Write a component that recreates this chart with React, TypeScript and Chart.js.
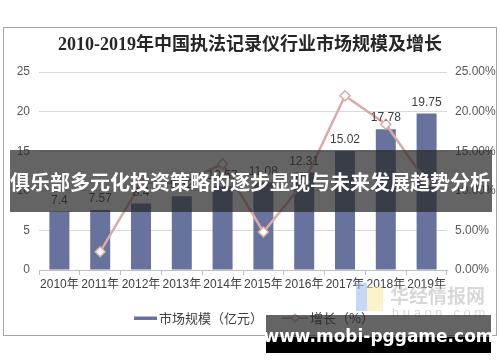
import React, { useEffect, useRef } from "react";
import { Chart, registerables } from "chart.js";
Chart.register(...registerables);

const titleText = "2010-2019年中国执法记录仪行业市场规模及增长";
const categories = ["2010年", "2011年", "2012年", "2013年", "2014年", "2015年", "2016年", "2017年", "2018年", "2019年"];
const marketSize = [7.4, 7.57, 8.4, 9.32, 10.57, 11.08, 12.31, 15.02, 17.78, 19.75];
const growthPct = [null, 2.3, 11.0, 11.0, 13.4, 4.8, 11.1, 22.0, 18.4, 11.1];
const leftTicks = [0, 5, 10, 15, 20, 25];
const rightTicks = [0, 5, 10, 15, 20, 25];
const seriesNames = ["市场规模（亿元）", "增长（%）"];
const bannerText = "俱乐部多元化投资策略的逐步显现与未来发展趋势分析";
const footerText = "www.mobi-pggame.com";
const watermarkText = "华经情报网";
const watermarkSub = "huaon.com";

const BAR = "#67739C";
const LINE = "#DDA9A5";
const SANS = "'Liberation Sans', 'Noto Sans CJK SC', sans-serif";
const CJK = "'Noto Sans CJK SC', sans-serif";

const overlayPlugin = {
  id: "overlay",
  beforeDraw(chart: any) {
    const { ctx, width, height } = chart;
    ctx.save();
    ctx.fillStyle = "#ffffff";
    ctx.fillRect(0, 0, width, height);
    ctx.strokeStyle = "#a6a6a6";
    ctx.lineWidth = 1;
    ctx.strokeRect(3.5, 27.5, 493, 308);
    ctx.fillStyle = "#262626";
    ctx.font = "bold 18px 'Liberation Serif', 'Noto Sans CJK SC', serif";
    ctx.textAlign = "center";
    ctx.textBaseline = "middle";
    ctx.fillText(titleText, 250, 45);
    ctx.restore();
  },
  afterDatasetsDraw(chart: any) {
    const { ctx } = chart;
    const meta = chart.getDatasetMeta(0);
    ctx.save();
    ctx.fillStyle = "#404040";
    ctx.font = "12px " + SANS;
    ctx.textAlign = "center";
    ctx.textBaseline = "middle";
    meta.data.forEach((el: any, i: number) => {
      ctx.fillText(String(marketSize[i]), el.x, el.y - 11);
    });
    ctx.restore();
  },
  afterDraw(chart: any) {
    const { ctx } = chart;
    ctx.save();
    // legend
    ctx.fillStyle = BAR;
    ctx.fillRect(134, 316.5, 23, 3.5);
    ctx.fillStyle = "#404040";
    ctx.font = "13px " + CJK;
    ctx.textAlign = "left";
    ctx.textBaseline = "middle";
    ctx.fillText(seriesNames[0], 159, 318);
    ctx.strokeStyle = LINE;
    ctx.lineWidth = 2;
    ctx.beginPath();
    ctx.moveTo(282, 318);
    ctx.lineTo(308, 318);
    ctx.stroke();
    ctx.fillStyle = "#fff";
    ctx.lineWidth = 1.2;
    ctx.beginPath();
    ctx.moveTo(295, 314);
    ctx.lineTo(299, 318);
    ctx.lineTo(295, 322);
    ctx.lineTo(291, 318);
    ctx.closePath();
    ctx.fill();
    ctx.stroke();
    ctx.fillStyle = "#404040";
    ctx.fillText(seriesNames[1], 310, 318);
    // watermark
    ctx.globalAlpha = 0.55;
    ctx.fillStyle = "#8fbaf0";
    ctx.fillRect(356, 283, 11, 28);
    ctx.fillStyle = "#fbe59a";
    ctx.fillRect(367, 287, 16, 24);
    ctx.fillStyle = "#b8b8b8";
    ctx.font = "bold 19px " + CJK;
    ctx.fillText(watermarkText, 390, 296);
    ctx.font = "13px " + SANS;
    ctx.fillText(watermarkSub.split("").join(" "), 392, 313);
    ctx.globalAlpha = 1;
    // center banner
    ctx.fillStyle = "rgba(40,40,40,0.72)";
    ctx.fillRect(10, 150, 482, 62);
    ctx.fillStyle = "#ffffff";
    ctx.font = "bold 20px " + CJK;
    ctx.textAlign = "center";
    ctx.fillText(bannerText, 250, 182);
    // footer banner
    ctx.fillStyle = "rgba(40,40,40,0.72)";
    ctx.fillRect(266, 315, 225, 22);
    ctx.fillStyle = "#000000";
    ctx.fillRect(266, 337, 225, 16);
    ctx.fillStyle = "#ffffff";
    ctx.font = "bold 17px 'DejaVu Sans', " + SANS;
    ctx.fillText(footerText, 378.5, 338);
    ctx.restore();
  },
};

export default function App() {
  const ref = useRef<HTMLCanvasElement | null>(null);
  useEffect(() => {
    if (!ref.current) return;
    const chart = new Chart(ref.current, {
      type: "bar",
      data: {
        labels: categories,
        datasets: [
          {
            type: "bar",
            label: seriesNames[0],
            data: marketSize,
            backgroundColor: BAR,
            barPercentage: 0.49,
            categoryPercentage: 1,
            yAxisID: "y",
            order: 1,
          },
          {
            type: "line",
            label: seriesNames[1],
            data: growthPct as any,
            borderColor: LINE,
            borderWidth: 2.5,
            pointStyle: "rectRot",
            pointRadius: 5,
            pointBackgroundColor: "#ffffff",
            pointBorderColor: LINE,
            pointBorderWidth: 1.5,
            yAxisID: "y1",
            order: 0,
            tension: 0,
          } as any,
        ],
      },
      options: {
        responsive: false,
        animation: false,
        layout: { padding: { top: 72, left: 0, right: 0, bottom: 0 } },
        plugins: { legend: { display: false }, title: { display: false }, tooltip: { enabled: false } },
        scales: {
          x: {
            grid: { display: true, offset: true, drawOnChartArea: false, tickLength: 5, color: "#bfbfbf" },
            border: { color: "#bfbfbf" },
            ticks: { color: "#404040", font: { size: 12, family: SANS }, padding: 2, maxRotation: 0, autoSkip: false },
            afterFit(scale: any) {
              scale.height = 92;
            },
          },
          y: {
            position: "left",
            min: leftTicks[0],
            max: leftTicks[leftTicks.length - 1],
            afterBuildTicks(scale: any) {
              scale.ticks = leftTicks.map((v) => ({ value: v }));
            },
            grid: { color: "#d9d9d9", drawTicks: false },
            border: { display: false },
            ticks: { color: "#595959", font: { size: 12, family: SANS }, padding: 9 },
            afterFit(scale: any) {
              scale.width = 39;
            },
          },
          y1: {
            position: "right",
            min: rightTicks[0],
            max: rightTicks[rightTicks.length - 1],
            afterBuildTicks(scale: any) {
              scale.ticks = rightTicks.map((v) => ({ value: v }));
            },
            grid: { display: false, drawTicks: false },
            border: { display: false },
            ticks: {
              color: "#595959",
              font: { size: 12, family: SANS },
              padding: 8,
              callback: (v: any) => Number(v).toFixed(2) + "%",
            },
            afterFit(scale: any) {
              scale.width = 53;
            },
          },
        },
      },
      plugins: [overlayPlugin],
    });
    return () => chart.destroy();
  }, []);
  return (
    <div style={{ position: "fixed", left: 0, top: 0, width: 500, height: 362 }}>
      <canvas ref={ref} width={500} height={362} style={{ width: 500, height: 362, display: "block" }} />
    </div>
  );
}
